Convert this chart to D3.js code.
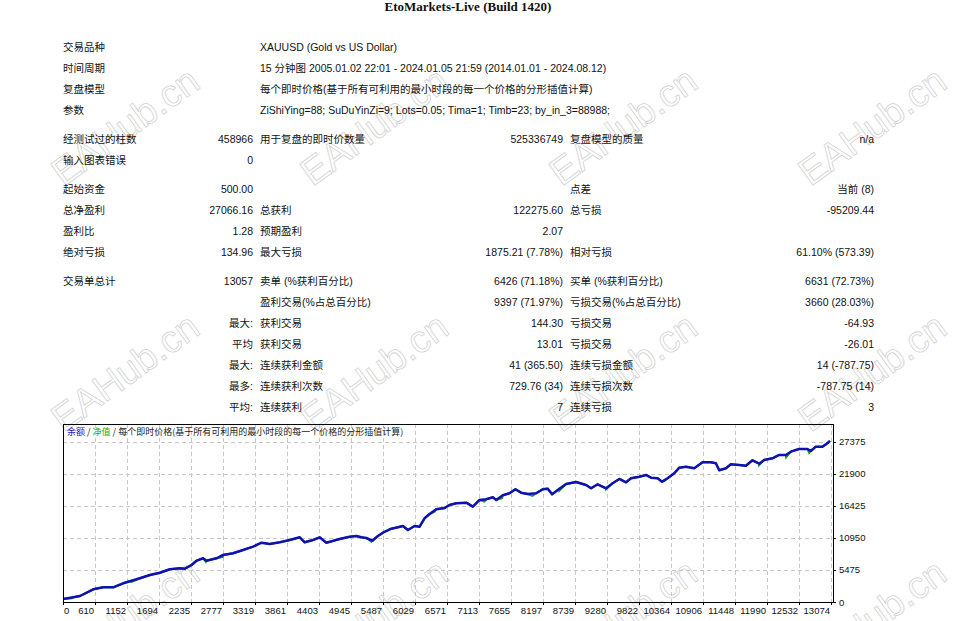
<!DOCTYPE html>
<html>
<head>
<meta charset="utf-8">
<script src="https://cdn.jsdelivr.net/npm/d3@7"></script>
<style>
body { margin: 0; background: #fff; }
</style>
</head>
<body>
<svg id="report" width="957" height="621"></svg>
<script>
var title = "EtoMarkets-Live (Build 1420)";

// header block: label, value
var infoRows = [
	["交易品种", "XAUUSD (Gold vs US Dollar)"],
	["时间周期", "15 分钟图 2005.01.02 22:01 - 2024.01.05 21:59 (2014.01.01 - 2024.08.12)"],
	["复盘模型", "每个即时价格(基于所有可利用的最小时段的每一个价格的分形插值计算)"],
	["参数", "ZiShiYing=88; SuDuYinZi=9; Lots=0.05; Tima=1; Timb=23; by_in_3=88988;"]
];

// stat blocks: label, value, label, value, label, value
var statGroups = [
	[
		["经测试过的柱数", "458966", "用于复盘的即时价数量", "525336749", "复盘模型的质量", "n/a"],
		["输入图表错误", "0", "", "", "", ""]
	],
	[
		["起始资金", "500.00", "", "", "点差", "当前 (8)"],
		["总净盈利", "27066.16", "总获利", "122275.60", "总亏损", "-95209.44"],
		["盈利比", "1.28", "预期盈利", "2.07", "", ""],
		["绝对亏损", "134.96", "最大亏损", "1875.21 (7.78%)", "相对亏损", "61.10% (573.39)"]
	],
	[
		["交易单总计", "13057", "卖单 (%获利百分比)", "6426 (71.18%)", "买单 (%获利百分比)", "6631 (72.73%)"],
		["", "", "盈利交易(%占总百分比)", "9397 (71.97%)", "亏损交易(%占总百分比)", "3660 (28.03%)"],
		["", "最大:", "获利交易", "144.30", "亏损交易", "-64.93"],
		["", "平均", "获利交易", "13.01", "亏损交易", "-26.01"],
		["", "最大:", "连续获利金额", "41 (365.50)", "连续亏损金额", "14 (-787.75)"],
		["", "最多:", "连续获利次数", "729.76 (34)", "连续亏损次数", "-787.75 (14)"],
		["", "平均:", "连续获利", "7", "连续亏损", "3"]
	]
];

// balance curve (trade number, balance)
var tradeNo = [0, 242, 356, 581, 750, 919, 1088, 1201, 1370, 1540, 1709, 1878, 2047, 2132, 2245, 2330,
	2441, 2499, 2668, 2779, 2949, 3118, 3287, 3429, 3569, 3739, 3908, 4077, 4161, 4302, 4415, 4528,
	4753, 4923, 5036, 5120, 5205, 5307, 5401, 5486, 5628, 5740, 5824, 5909, 6022, 6107, 6191, 6276,
	6389, 6530, 6614, 6727, 6897, 7008, 7122, 7235, 7347, 7404, 7516, 7629, 7730, 7827, 7939, 8081,
	8192, 8277, 8351, 8475, 8588, 8757, 8869, 8926, 9011, 9123, 9265, 9376, 9490, 9603, 9688, 9828,
	9941, 10026, 10138, 10212, 10307, 10420, 10505, 10618, 10758, 10899, 11041, 11125, 11181, 11295, 11379, 11520,
	11633, 11744, 11858, 11942, 12083, 12196, 12309, 12394, 12534, 12675, 12732, 12817, 12929, 13013, 13057];
var balance = [500, 804, 1027, 2173, 2515, 2515, 3200, 3542, 4055, 4620, 5013, 5595, 5766, 5698, 6331, 7066,
	7477, 7066, 7477, 8042, 8333, 8897, 9462, 10146, 9924, 10215, 10608, 11070, 10215, 10608, 11070, 10146,
	10780, 11173, 11293, 11070, 10950, 10488, 11293, 11857, 12542, 12781, 13004, 12319, 13004, 12884, 14321, 15057,
	15861, 16083, 16597, 16888, 16990, 16306, 17452, 17572, 17914, 17452, 18256, 18598, 19283, 18701, 18479, 18598,
	19283, 19386, 18427, 19386, 20190, 20532, 20190, 20019, 19454, 20139, 19454, 20310, 21045, 20481, 21165, 21439,
	21730, 21268, 21165, 20583, 21165, 22021, 22979, 23150, 22876, 23903, 23903, 23732, 22534, 22876, 23561, 23441,
	23321, 24245, 23663, 24296, 24587, 25152, 25152, 25716, 26178, 26178, 25836, 26572, 26572, 27154, 27566];

// equity dips that show under the balance line
var dipTrade = [215, 1230, 2487, 2774, 5176, 5290, 6360, 6919, 7206, 7505, 8018, 8475, 9265, 10251, 11858, 12314, 12704];
var dipEquity = [633, 3422, 6844, 7700, 10950, 10317, 15450, 16888, 17161, 17743, 18137, 19043, 19283, 20703, 23441, 24758, 25500];

var xTickLabels = [0, 610, 1152, 1694, 2235, 2777, 3319, 3861, 4403, 4945, 5487, 6029, 6571, 7113,
	7655, 8197, 8739, 9280, 9822, 10364, 10906, 11448, 11990, 12532, 13074];
var yTickLabels = [0, 5475, 10950, 16425, 21900, 27375];

var legendParts = [
	["余额", "#2020c8"], [" / ", "#222"], ["净值", "#10b010"], [" / 每个即时价格(基于所有可利用的最小时段的每一个价格的分形插值计算)", "#222"]
];
var watermark = "EAHub.cn";

var svg = d3.select("#report");
var textFont = "'Liberation Sans', 'Noto Sans CJK SC', sans-serif";

// watermarks behind everything
var wmCols = d3.range(4), wmRows = d3.range(3);
wmRows.forEach(function (r) {
	wmCols.forEach(function (c) {
		svg.append("text")
			.attr("transform", "translate(" + (125 + c * 249) + "," + (126 + r * 246) + ") rotate(-36)")
			.attr("text-anchor", "middle")
			.attr("dy", "0.35em")
			.attr("font-family", "'Liberation Sans', Arial, sans-serif")
			.attr("font-size", "38px")
			.attr("fill", "none")
			.attr("stroke", "#d6d6d6")
			.attr("stroke-width", 0.9)
			.text(watermark);
	});
});

svg.append("text")
	.attr("x", 468).attr("y", 11)
	.attr("text-anchor", "middle")
	.attr("font-family", "'Liberation Serif', 'Times New Roman', serif")
	.attr("font-weight", "bold")
	.attr("font-size", "13px")
	.attr("fill", "#111")
	.text(title);

// table
var rowStep = 21, groupGap = 8, firstRow = 47;
var colX = [63, 253, 260, 563, 570, 874];
var colAnchor = ["start", "end", "start", "end", "start", "end"];

function cell(x, y, anchor, txt) {
	if (!txt) return;
	svg.append("text")
		.attr("x", x).attr("y", y + 4)
		.attr("text-anchor", anchor)
		.attr("font-family", textFont)
		.attr("font-size", "10.5px")
		.attr("fill", "#111")
		.text(txt);
}

var rowIndex = 0;
infoRows.forEach(function (row) {
	var y = firstRow + rowIndex * rowStep;
	cell(colX[0], y, "start", row[0]);
	cell(colX[2], y, "start", row[1]);
	rowIndex++;
});
statGroups.forEach(function (group, gi) {
	group.forEach(function (row) {
		var y = firstRow + rowIndex * rowStep + (gi + 1) * groupGap;
		row.forEach(function (txt, ci) {
			cell(colX[ci], y, colAnchor[ci], txt);
		});
		rowIndex++;
	});
});

// chart frame
var plotL = 63, plotR = 833, plotT = 424, plotB = 602;

var xs = d3.scaleLinear().domain([68, 13108]).range([plotL, plotR]).clamp(true);
var ys = d3.scaleLinear().domain([0, 30450]).range([plotB, plotT]);

var grid = svg.append("g").attr("stroke", "#c8c8c8").attr("stroke-dasharray", "4,3");
grid.selectAll("line.v")
	.data(xTickLabels)
	.enter().append("line")
	.attr("class", "v")
	.attr("x1", function (d) { return Math.round(xs(d)) + 0.5; })
	.attr("x2", function (d) { return Math.round(xs(d)) + 0.5; })
	.attr("y1", plotT).attr("y2", plotB);
grid.selectAll("line.h")
	.data(yTickLabels)
	.enter().append("line")
	.attr("class", "h")
	.attr("x1", plotL).attr("x2", plotR)
	.attr("y1", function (d) { return Math.round(ys(d)) + 0.5; })
	.attr("y2", function (d) { return Math.round(ys(d)) + 0.5; });

// tick marks outside the frame
svg.append("g").attr("stroke", "#000")
	.selectAll("line")
	.data(xTickLabels)
	.enter().append("line")
	.attr("x1", function (d) { return Math.round(xs(d)) + 0.5; })
	.attr("x2", function (d) { return Math.round(xs(d)) + 0.5; })
	.attr("y1", plotB).attr("y2", plotB + 3);
svg.append("g").attr("stroke", "#000")
	.selectAll("line")
	.data(yTickLabels)
	.enter().append("line")
	.attr("x1", plotR).attr("x2", plotR + 3)
	.attr("y1", function (d) { return Math.round(ys(d)) + 0.5; })
	.attr("y2", function (d) { return Math.round(ys(d)) + 0.5; });

svg.append("g")
	.selectAll("text")
	.data(xTickLabels)
	.enter().append("text")
	.attr("x", function (d, i) { return i === 0 ? xs(d) + 1 : xs(d) - 1; })
	.attr("y", plotB + 12)
	.attr("text-anchor", function (d, i) { return i === 0 ? "start" : "end"; })
	.attr("font-family", textFont)
	.attr("font-size", "9.5px")
	.attr("fill", "#111")
	.text(function (d) { return d; });

svg.append("g")
	.selectAll("text")
	.data(yTickLabels)
	.enter().append("text")
	.attr("x", plotR + 6)
	.attr("y", function (d) { return ys(d) + 3.5; })
	.attr("font-family", textFont)
	.attr("font-size", "9.5px")
	.attr("fill", "#111")
	.text(function (d) { return d; });

var balancePts = tradeNo.map(function (t, i) { return [t, balance[i]]; });
var equityPts = balancePts.concat(dipTrade.map(function (t, i) { return [t, dipEquity[i]]; }))
	.sort(function (a, b) { return a[0] - b[0]; });

var line = d3.line()
	.x(function (d) { return xs(d[0]); })
	.y(function (d) { return ys(d[1]); });

svg.append("path")
	.datum(equityPts)
	.attr("d", line)
	.attr("fill", "none")
	.attr("stroke", "#10a010")
	.attr("stroke-width", 2);

svg.append("path")
	.datum(balancePts)
	.attr("d", line)
	.attr("fill", "none")
	.attr("stroke", "#1010b4")
	.attr("stroke-width", 2.5)
	.attr("stroke-linejoin", "round");

svg.append("rect")
	.attr("x", plotL + 0.5).attr("y", plotT + 0.5)
	.attr("width", plotR - plotL).attr("height", plotB - plotT)
	.attr("fill", "none")
	.attr("stroke", "#000");

var legend = svg.append("text")
	.attr("x", plotL + 4).attr("y", plotT + 11)
	.attr("font-family", "'Noto Sans CJK SC', sans-serif")
	.attr("font-size", "9px");
legendParts.forEach(function (p) {
	legend.append("tspan").attr("fill", p[1]).attr("xml:space", "preserve").text(p[0]);
});
</script>
</body>
</html>
